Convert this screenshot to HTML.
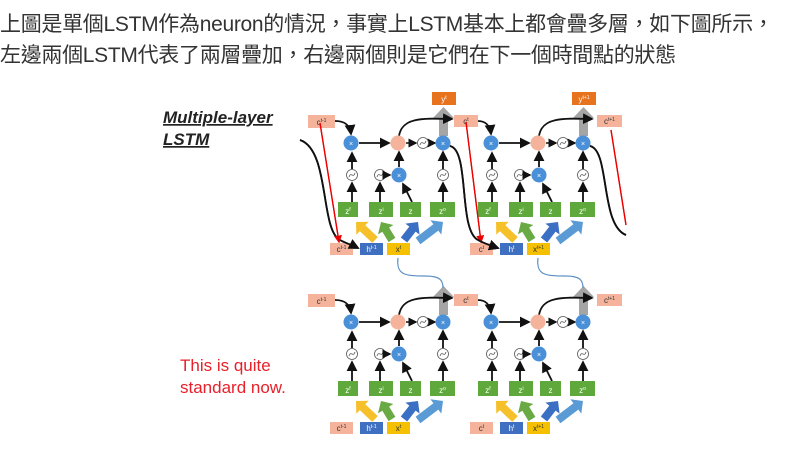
<!DOCTYPE html>
<html><head><meta charset="utf-8"><style>
html,body{margin:0;padding:0;background:#fff;width:786px;height:463px;overflow:hidden}
.t{position:absolute;left:0;font-family:"Liberation Sans","Noto Sans CJK TC",sans-serif;font-size:21px;color:#333;white-space:nowrap;letter-spacing:-0.3px}
</style></head><body>
<div class="t" style="top:8px">上圖是單個LSTM作為neuron的情況，事實上LSTM基本上都會疊多層，如下圖所示，</div>
<div class="t" style="top:39px">左邊兩個LSTM代表了兩層疊加，右邊兩個則是它們在下一個時間點的狀態</div>
<svg id="s" width="786" height="463" style="position:absolute;left:0;top:0" xmlns="http://www.w3.org/2000/svg">
<defs>
<marker id="a" markerWidth="6" markerHeight="6" refX="5" refY="3" orient="auto"><path d="M0,0L6,3L0,6z" fill="#111"/></marker>
<marker id="r" markerWidth="6" markerHeight="6" refX="5" refY="3" orient="auto"><path d="M0,0L6,3L0,6z" fill="#e00"/></marker>
</defs>
<text x="163" y="123" font-family="Liberation Sans" font-weight="bold" font-style="italic" font-size="17" fill="#222" text-decoration="underline">Multiple-layer</text>
<text x="163" y="145" font-family="Liberation Sans" font-weight="bold" font-style="italic" font-size="17" fill="#222" text-decoration="underline">LSTM</text>
<text x="180" y="371" font-family="Liberation Sans" font-size="17" fill="#e8202a">This is quite</text>
<text x="180" y="393" font-family="Liberation Sans" font-size="17" fill="#e8202a">standard now.</text>
<g id="g"></g>
</svg>
<script>
var g=document.getElementById('g'),h='';
function R(x,y,w,hh,f,t,c){h+='<rect x="'+x+'" y="'+y+'" width="'+w+'" height="'+hh+'" fill="'+f+'"/>';if(t)h+='<text x="'+(x+w/2)+'" y="'+(y+hh-3)+'" font-family="Liberation Sans" font-size="8" text-anchor="middle" fill="'+(c||'#fff')+'">'+t+'</text>';}
function C(x,y,r,f,s){h+='<circle cx="'+x+'" cy="'+y+'" r="'+r+'" fill="'+f+'" stroke="'+(s||'none')+'" stroke-width="0.8"/>';}
function L(d,c,w,m){h+='<path d="'+d+'" fill="none" stroke="'+(c||'#111')+'" stroke-width="'+(w||1.8)+'"'+(m?' marker-end="url(#'+m+')"':'')+'/>';}
function T(x,y){C(x,y,5.5,'#fff','#555');L('M'+(x-3)+','+(y+2)+'C'+(x-1)+','+(y-4)+' '+(x+1)+','+(y+4)+' '+(x+3)+','+(y-2),'#555',0.8);}
function X(x,y){C(x,y,7.5,'#4a90d9');h+='<text x="'+x+'" y="'+(y+3)+'" font-size="7" text-anchor="middle" fill="#fff" font-family="Liberation Sans">×</text>';}
function F(x1,y1,x2,y2,c){var dx=x2-x1,dy=y2-y1,l=Math.hypot(dx,dy),ux=dx/l,uy=dy/l,px=-uy,py=ux,w=4,hw=9,hl=9;var bx=x2-ux*hl,by=y2-uy*hl;
h+='<polygon fill="'+c+'" points="'+[[x1+px*w,y1+py*w],[bx+px*w,by+py*w],[bx+px*hw,by+py*hw],[x2,y2],[bx-px*hw,by-py*hw],[bx-px*w,by-py*w],[x1-px*w,y1-py*w]].map(function(p){return p[0].toFixed(1)+','+p[1].toFixed(1)}).join(' ')+'"/>';}
var pink='#f4b39a';
for(var L2=0;L2<2;L2++){var oy=L2*179;
 R(308,115+oy,27,13,pink,'c<tspan font-size="5" dy="-3">t-1</tspan>','#333');
 R(454,115+oy,24,12,pink,'c<tspan font-size="5" dy="-3">t</tspan>','#333');
 R(597,115+oy,25,12,pink,'c<tspan font-size="5" dy="-3">t+1</tspan>','#333');
 L('M300,140C330,150 320,230 340,240C345,243 352,245 358,248','#111',1.8,'a');
 L('M590,146C610,150 600,225 626,235','#111',1.8);
 L('M320,123L339,242','#e00',1.3,'r');L('M466,122L481,242','#e00',1.3,'r');L('M611,130L626,225','#e00',1.3);
 for(var b=0;b<2;b++){var o=b*140,cp=b?454:308,cw=b?24:27,nx=b?597:454;
  if(L2==0)R(432+o,92,24,13,'#e8731e','y<tspan font-size="5" dy="-3">'+(b?'t+1':'t')+'</tspan>');
  h+='<rect x="'+(439+o)+'" y="'+(117+oy)+'" width="9" height="19" fill="#a5a5a5"/><polygon points="'+(433+o)+','+(118+oy)+' '+(443.5+o)+','+(107+oy)+' '+(454+o)+','+(118+oy)+'" fill="#a5a5a5"/>';
  L('M'+(cp+cw)+','+(121+oy)+'C'+(345+o)+','+(121+oy)+' '+(350+o)+','+(125+oy)+' '+(351+o)+','+(134+oy),'#111',1.8,'a');
  L('M'+(359+o)+','+(143+oy)+'L'+(389+o)+','+(143+oy),'#111',1.8,'a');
  L('M'+(406+o)+','+(143+oy)+'L'+(416+o)+','+(143+oy),'#111',1.5,'a');
  L('M'+(429+o)+','+(143+oy)+'L'+(435+o)+','+(143+oy),'#111',1.5,'a');
  L('M'+(399+o)+','+(136+oy)+'C'+(402+o)+','+(118+oy)+' '+(420+o)+','+(118+oy)+' '+(452+o)+','+(119+oy),'#111',1.8,'a');
  C(398+o,143+oy,7.5,pink);
  X(351+o,143+oy);X(443+o,143+oy);T(423+o,143+oy);
  T(352+o,175+oy);T(380+o,175+oy);X(399+o,175+oy);T(443+o,175+oy);
  L('M'+(352+o)+','+(202+oy)+'L'+(352+o)+','+(183+oy),'#111',1.8,'a');
  L('M'+(352+o)+','+(169+oy)+'L'+(352+o)+','+(153+oy),'#111',1.8,'a');
  L('M'+(380+o)+','+(202+oy)+'L'+(380+o)+','+(183+oy),'#111',1.8,'a');
  L('M'+(386+o)+','+(175+oy)+'L'+(390+o)+','+(175+oy),'#111',1.5,'a');
  L('M'+(412+o)+','+(202+oy)+'L'+(403+o)+','+(184+oy),'#111',1.8,'a');
  L('M'+(399+o)+','+(167+oy)+'L'+(399+o)+','+(152+oy),'#111',1.8,'a');
  L('M'+(443+o)+','+(202+oy)+'L'+(443+o)+','+(183+oy),'#111',1.8,'a');
  L('M'+(443+o)+','+(169+oy)+'L'+(443+o)+','+(152+oy),'#111',1.8,'a');
  if(b==0)L('M450,146C470,150 458,230 478,240C485,244 492,246 498,248','#111',1.8,'a');
  var gr='#5fa83b';
  R(338+o,202+oy,20,15,gr,'z<tspan font-size="5" dy="-3">f</tspan>');R(369+o,202+oy,24,15,gr,'z<tspan font-size="5" dy="-3">i</tspan>');
  R(400+o,202+oy,21,15,gr,'z');R(430+o,202+oy,25,15,gr,'z<tspan font-size="5" dy="-3">o</tspan>');
  F(375+o,240+oy,356+o,222+oy,'#f5c02a');F(392+o,240+oy,381+o,222+oy,'#6aaa45');F(404+o,240+oy,418+o,222+oy,'#3a6fc4');F(418+o,241+oy,443+o,222+oy,'#5b9bd5');
  R(330+o,243+oy,23,12,pink,'c<tspan font-size="5" dy="-3">'+(b?'t':'t-1')+'</tspan>','#333');
  R(360+o,243+oy,23,12,'#3e6fc0','h<tspan font-size="5" dy="-3">'+(b?'t':'t-1')+'</tspan>');
  R(387+o,243+oy,23,12,'#f5c000','x<tspan font-size="5" dy="-3">'+(b?'t+1':'t')+'</tspan>','#333');
  if(L2==1)L('M'+(398+o)+',258C'+(396+o)+',275 '+(405+o)+',276 '+(425+o)+',276C'+(440+o)+',276 '+(443+o)+',280 '+(443+o)+',288','#5b8fc4',1.2);
 }
}
g.innerHTML=h;
</script>
</body></html>
